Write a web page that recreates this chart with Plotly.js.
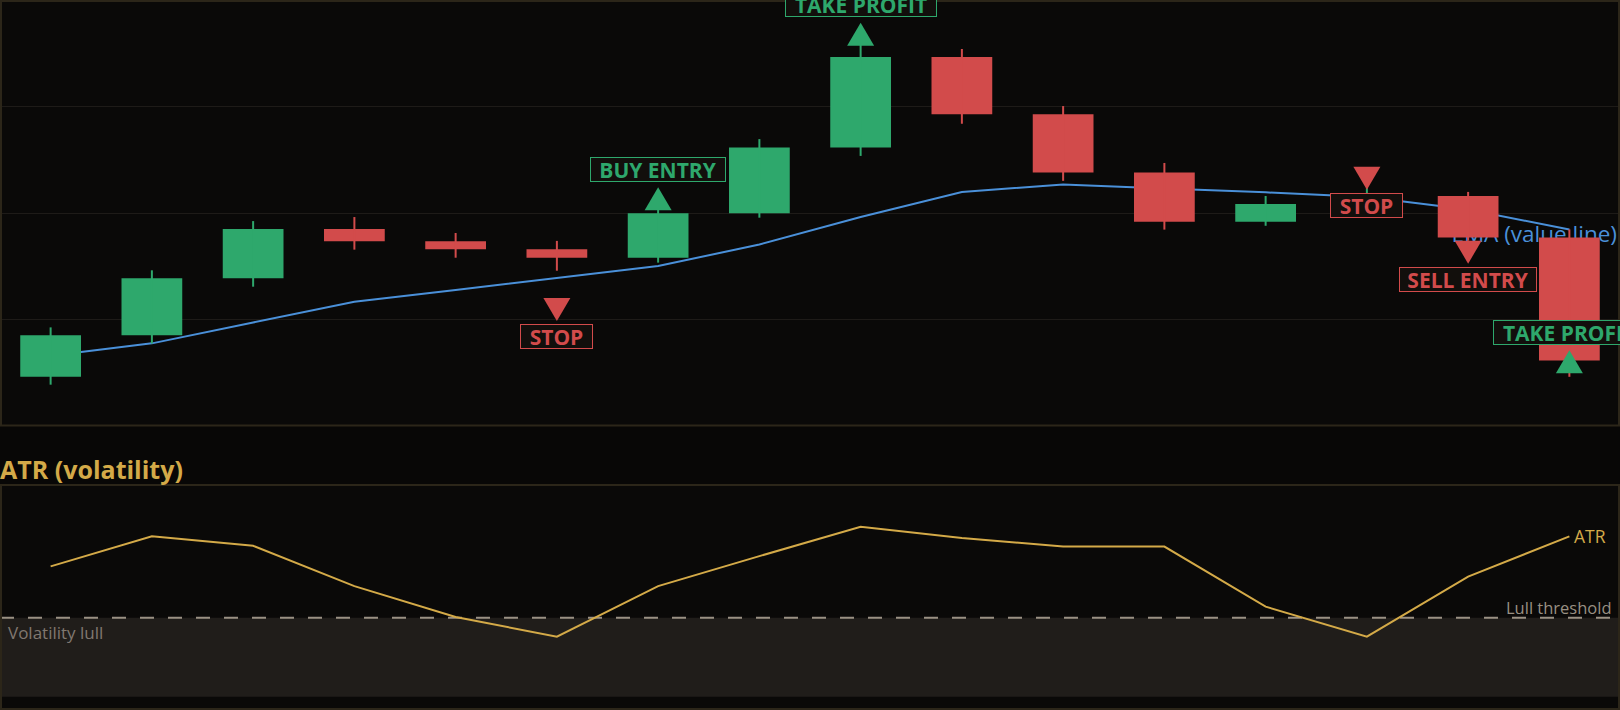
<!DOCTYPE html>
<html>
<head>
<meta charset="utf-8">
<script src="https://cdn.plot.ly/plotly-3.0.1.min.js"></script>
<style>
html,body{margin:0;padding:0;background:#080706;}
#chart{width:1620px;height:710px;}
</style>
</head>
<body>
<div id="chart"></div>
<script>
// ---- data ----
const bars   = [0,1,2,3,4,5,6,7,8,9,10,11,12,13,14,15];
const openP  = [97.31, 99.26, 101.94, 104.25, 103.67, 103.30, 102.90, 104.99, 108.08, 112.32, 109.64, 106.90, 104.59, 105.42, 105.80, 103.85];
const highP  = [99.63, 102.31, 104.62, 104.81, 104.06, 103.69, 105.20, 108.47, 112.90, 112.70, 110.02, 107.35, 105.80, 106.20, 105.99, 104.23];
const lowP   = [96.94, 98.87, 101.54, 103.28, 102.90, 102.29, 102.67, 104.78, 107.68, 109.19, 106.51, 104.22, 104.40, 105.10, 103.70, 97.31];
const closeP = [99.26, 101.94, 104.25, 103.67, 103.30, 102.90, 104.99, 108.08, 112.32, 109.64, 106.90, 104.59, 105.42, 105.80, 103.85, 98.07];
const ema    = [98.30, 98.88, 99.86, 100.83, 101.39, 101.95, 102.51, 103.52, 104.81, 105.99, 106.34, 106.15, 105.97, 105.75, 105.16, 104.23];
const atr    = [1.65, 2.03, 1.91, 1.40, 1.01, 0.76, 1.40, 1.78, 2.15, 2.01, 1.90, 1.90, 1.14, 0.76, 1.52, 2.03];
const lullThreshold = 1.0;

const sigBar   = [6, 8, 5, 13, 14, 15];
const sigPrice = [105.67, 113.39, 100.47, 106.63, 103.16, 98.02];
const sigText  = ['BUY ENTRY', 'TAKE PROFIT', 'STOP', 'STOP', 'SELL ENTRY', 'TAKE PROFIT'];
const sigDir   = ['up', 'up', 'down', 'down', 'down', 'up'];

// ---- styles ----
const GREEN = '#2ea86c', RED = '#d24b4b', BLUE = '#4a90d9', GOLD = '#d4aa48';
const FONT = 'Open Sans';
const labelWidth = {'BUY ENTRY':134, 'TAKE PROFIT':150, 'STOP':71, 'SELL ENTRY':136};
const PRICE_RANGE = [95, 115];

// ---- traces ----
const wickUp = {x:[], y:[]}, wickDn = {x:[], y:[]};
const bodyUp = {x:[], base:[], y:[]}, bodyDn = {x:[], base:[], y:[]};
bars.forEach((b, i) => {
  const up = closeP[i] >= openP[i];
  const w = up ? wickUp : wickDn;
  w.x.push(b, b, null); w.y.push(lowP[i], highP[i], null);
  const bd = up ? bodyUp : bodyDn;
  bd.x.push(b);
  bd.base.push(Math.min(openP[i], closeP[i]));
  bd.y.push(Math.abs(closeP[i] - openP[i]));
});

const lastEma = ema[ema.length - 1];
const traces = [
  // EMA line and its label sit beneath the candles (candles are on an overlaying axis)
  {type:'scatter', mode:'lines', x:bars, y:ema, line:{color:BLUE, width:2}, xaxis:'x', yaxis:'y', hoverinfo:'skip'},
  {type:'scatter', mode:'text', x:[PRICE_RANGE && 15.47], y:[lastEma - 0.32], text:['EMA (value line)'], textposition:'middle left',
   textfont:{family:FONT, size:22.5, color:BLUE}, cliponaxis:false, xaxis:'x', yaxis:'y', hoverinfo:'skip'},
  {type:'bar', x:bodyUp.x, base:bodyUp.base, y:bodyUp.y, width:0.6, marker:{color:GREEN, line:{width:0}}, xaxis:'x', yaxis:'y3', hoverinfo:'skip'},
  {type:'bar', x:bodyDn.x, base:bodyDn.base, y:bodyDn.y, width:0.6, marker:{color:RED, line:{width:0}}, xaxis:'x', yaxis:'y3', hoverinfo:'skip'},
  {type:'scatter', mode:'lines', x:wickUp.x, y:wickUp.y, line:{color:GREEN, width:2}, connectgaps:false, xaxis:'x', yaxis:'y3', hoverinfo:'skip'},
  {type:'scatter', mode:'lines', x:wickDn.x, y:wickDn.y, line:{color:RED, width:2}, connectgaps:false, xaxis:'x', yaxis:'y3', hoverinfo:'skip'},
  {type:'scatter', mode:'lines', x:bars, y:atr, line:{color:GOLD, width:2}, xaxis:'x2', yaxis:'y2', hoverinfo:'skip'}
];

// ---- shapes ----
const shapes = [
  {type:'rect', xref:'x2', yref:'y2', x0:-0.5, x1:15.5, y0:0, y1:lullThreshold, fillcolor:'#201d1a', line:{width:0}, layer:'below'},
  {type:'line', xref:'x2', yref:'y2', x0:-0.5, x1:15.5, y0:lullThreshold, y1:lullThreshold, line:{color:'#9a9184', width:2, dash:'14px,14px'}, layer:'below'},
  {type:'rect', xref:'paper', yref:'paper', x0:1/1620, x1:1619/1620, y0:(710-425.5)/710, y1:709/710, line:{color:'#2c2619', width:2}, fillcolor:'rgba(0,0,0,0)', layer:'above'},
  {type:'rect', xref:'paper', yref:'paper', x0:1/1620, x1:1619/1620, y0:1/710, y1:(710-485)/710, line:{color:'#2c2619', width:2}, fillcolor:'rgba(0,0,0,0)', layer:'above'}
];
const annotations = [];
sigBar.forEach((b, i) => {
  const up = sigDir[i] === 'up';
  const col = up ? GREEN : RED;
  shapes.push({type:'path', xref:'x', yref:'y', xsizemode:'pixel', ysizemode:'pixel', xanchor:b, yanchor:sigPrice[i],
    path: up ? 'M-13.5,-11.5L13.5,-11.5L0,11.5Z' : 'M-13.5,11.5L13.5,11.5L0,-11.5Z',
    fillcolor:col, line:{width:0}, layer:'above'});
  annotations.push({xref:'x', yref:'y', x:b, y:sigPrice[i], text:sigText[i], showarrow:false,
    xanchor:'center', yanchor:'middle', yshift: up ? 29.4 : -27.3,
    width:labelWidth[sigText[i]], height:23, borderpad:0, borderwidth:1, bordercolor:col, bgcolor:'#120f0c',
    font:{family:FONT, size:21, weight:700, color:col}});
});
annotations.push(
  {xref:'paper', yref:'paper', x:0, y:225/710, xanchor:'left', yanchor:'bottom', yshift:-2, xshift:-1, showarrow:false,
   text:'ATR (volatility)', borderpad:0, font:{family:FONT, size:25, weight:700, color:GOLD}},
  {xref:'x2', yref:'y2', x:bars[bars.length-1], y:atr[atr.length-1], xanchor:'left', yanchor:'middle', xshift:3, showarrow:false,
   text:'ATR', font:{family:FONT, size:17.5, color:GOLD}},
  {xref:'paper', yref:'y2', x:1, y:lullThreshold, xanchor:'right', yanchor:'bottom', xshift:-6, yshift:-3, showarrow:false,
   text:'Lull threshold', font:{family:FONT, size:16.5, color:'#999083'}},
  {xref:'paper', yref:'y2', x:0, y:lullThreshold, xanchor:'left', yanchor:'top', xshift:6, yshift:-1.5, showarrow:false,
   text:'Volatility lull', font:{family:FONT, size:17, color:'#807870'}}
);

const hiddenAxis = {showgrid:false, zeroline:false, showticklabels:false, showline:false, ticks:''};
const layout = {
  width:1620, height:710, margin:{l:0, r:0, t:0, b:0},
  paper_bgcolor:'#080706', plot_bgcolor:'#0a0908',
  showlegend:false, barmode:'overlay', hovermode:false,
  font:{family:FONT, color:'#cccccc'},
  xaxis:Object.assign({domain:[0,1], range:[-0.5,15.5], anchor:'y'}, hiddenAxis),
  yaxis:{domain:[(710-426)/710, 1], range:PRICE_RANGE, tick0:0, dtick:5, showgrid:true, gridcolor:'#1e1b18', gridwidth:1,
         zeroline:false, showticklabels:false, showline:false, ticks:''},
  yaxis3:Object.assign({overlaying:'y', range:PRICE_RANGE, anchor:'x'}, hiddenAxis),
  xaxis2:Object.assign({domain:[0,1], range:[-0.5,15.5], anchor:'y2'}, hiddenAxis),
  yaxis2:Object.assign({domain:[0, 225/710], range:[-0.168, 2.68], anchor:'x2'}, hiddenAxis),
  shapes:shapes, annotations:annotations
};

Plotly.newPlot('chart', traces, layout, {staticPlot:true, displayModeBar:false});
</script>
</body>
</html>
